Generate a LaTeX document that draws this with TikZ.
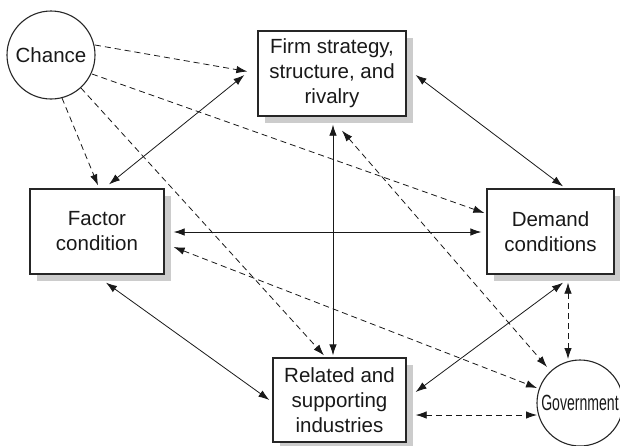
\documentclass[tikz,border=0pt]{standalone}
\usepackage{fontspec}
\setmainfont{Liberation Sans}
\usetikzlibrary{arrows.meta,calc,shadows}
\begin{document}
\begin{tikzpicture}[x=1pt,y=-1pt,
  every node/.style={font=\fontsize{20.5}{25}\selectfont, text=black!90},
  box/.style={draw=black!85, line width=1.3pt, fill=white, minimum width=#1,
    minimum height=85pt, inner sep=0pt, align=center,
    drop shadow={shadow xshift=7pt, shadow yshift=-7pt, fill=black!20, opacity=1}},
  blob/.style={draw=black!85, line width=1.1pt, fill=white, circle, inner sep=0pt, minimum size=#1},
  link/.style={line width=0.8pt, draw=black!90, {Latex[length=11pt,width=7.5pt]}-{Latex[length=11pt,width=7.5pt]}},
  dlink/.style={line width=0.8pt, draw=black!90, dash pattern=on 6pt off 4pt},
  tip/.style={-{Latex[length=11pt,width=7.5pt]}},
  both/.style={{Latex[length=11pt,width=7.5pt]}-{Latex[length=11pt,width=7.5pt]}}]
\useasboundingbox (0,0) rectangle (620,445);

\node[box=148pt] (firm) at (332,73.5) {Firm strategy,\\structure, and\\rivalry};
\node[box=134pt] (factor) at (97,231.5) {Factor\\condition};
\node[box=127pt] (demand) at (550.5,231.5) {Demand\\conditions};
\node[box=133pt, minimum height=84pt] (related) at (339.5,400) {Related and\\supporting\\industries};
\node[blob=88pt] (chance) at (51,55) {Chance};
\node[blob=86pt] (gov) at (580,403) {\fontsize{22}{25}\selectfont\scalebox{0.64}[1]{Government}};

% Chance influences
\draw[dlink, tip] ($(chance.center)+(44,-10)$) -- ($(firm.west)+(-10,-2)$);
\draw[dlink, tip] ($(chance.center)+(41,19)$) -- ($(demand.west)+(-2,-18.5)$);
\draw[dlink, tip] ($(chance.center)+(11,43)$) -- ($(factor.north)+(1,-3)$);
\draw[dlink, tip] ($(chance.center)+(30,33)$) -- ($(related.north)+(-15.5,-2)$);

% solid diamond links
\draw[link] ($(firm.west)+(-13,1.5)$) -- ($(factor.north)+(12,-4)$);
\draw[link] ($(firm.east)+(9,1.5)$) -- ($(demand.north)+(12.5,-2)$);
\draw[link] ($(firm.south)+(1,8)$) -- ($(related.north)+(-6.5,-2)$);
\draw[link] ($(factor.east)+(9,0.5)$) -- ($(demand.west)+(-5,0.5)$);
\draw[link] ($(factor.south)+(9,8)$) -- ($(related.west)+(-3,0)$);
\draw[link] ($(demand.south)+(12.5,8)$) -- ($(related.east)+(9,-8)$);

% government links
\draw[dlink, both] ($(firm.south)+(10,14)$) -- ($(gov.center)+(-33,-36)$);
\draw[dlink, both] ($(factor.east)+(9,15.5)$) -- ($(gov.center)+(-43,-15)$);
\draw[dlink, both] ($(demand.south)+(17.5,8)$) -- ($(gov.center)+(-12,-44)$);
\draw[dlink, both] ($(related.east)+(9,15)$) -- ($(gov.center)+(-43,12)$);
\end{tikzpicture}
\end{document}
